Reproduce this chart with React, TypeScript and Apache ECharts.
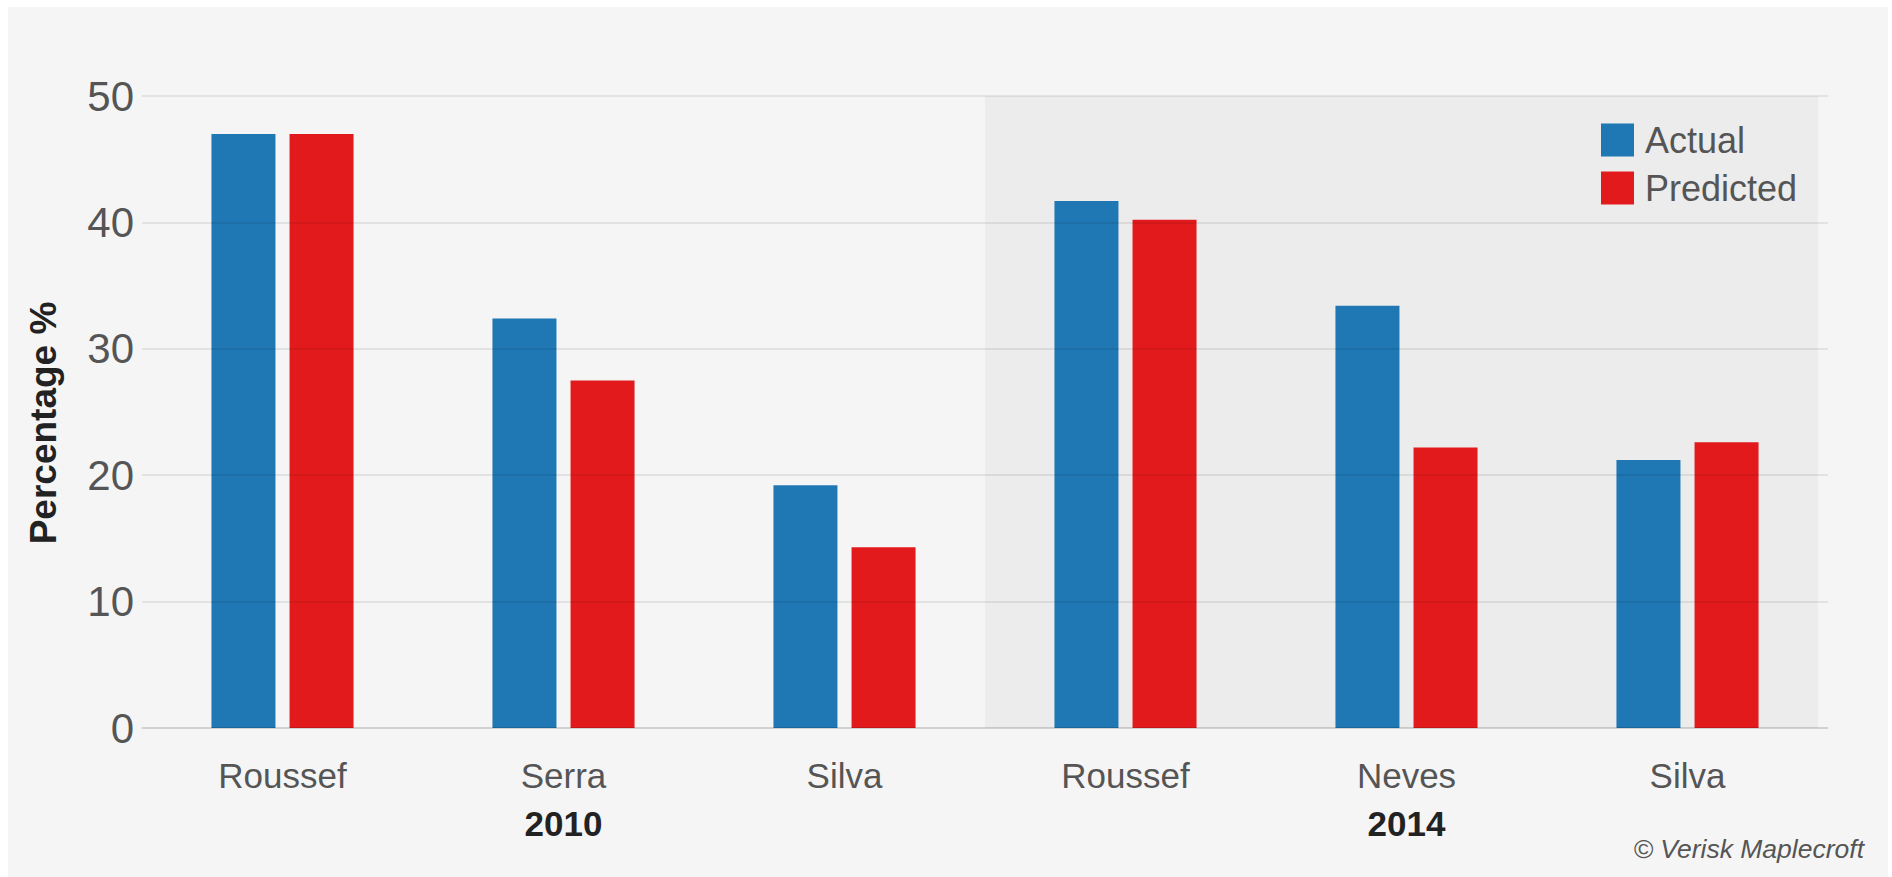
import React, { useEffect, useRef } from "react";
import * as echarts from "echarts";

const categories = ["Roussef", "Serra", "Silva", "Roussef", "Neves", "Silva"];
const years = ["", "2010", "", "", "2014", ""];
const actual = [47.0, 32.4, 19.2, 41.7, 33.4, 21.2];
const predicted = [47.0, 27.5, 14.3, 40.2, 22.2, 22.6];
const seriesNames = ["Actual", "Predicted"];
const shadedStart = 3; // first category of the 2014 group
const yMin = 0;
const yMax = 50;
const yStep = 10;
const yName = "Percentage %";
const credit = "© Verisk Maplecroft";

const SANS = "'Liberation Sans', Arial, sans-serif";

export default function App() {
  const ref = useRef<HTMLDivElement>(null);
  useEffect(() => {
    if (!ref.current) return;
    const chart = echarts.init(ref.current, null, { renderer: "svg" });
    chart.setOption({
      animation: false,
      backgroundColor: "#f5f5f5",
      grid: { left: 134, right: 60, top: 89, bottom: 149, containLabel: false },
      legend: {
        orient: "vertical",
        left: 1593,
        top: 115,
        padding: 0,
        itemWidth: 33,
        itemHeight: 33,
        itemGap: 12,
        icon: "rect",
        textStyle: { fontSize: 36, color: "#555", fontFamily: SANS, padding: [0, 0, 0, 6] },
        data: seriesNames,
      },
      xAxis: {
        type: "category",
        data: categories,
        axisTick: { show: false },
        axisLine: { show: true, lineStyle: { color: "rgba(0,0,0,0.1)", width: 1.5 } },
        axisLabel: {
          margin: 23,
          interval: 0,
          formatter: (v: string, i: number) =>
            years[i] ? `{n|${v}}\n{y|${years[i]}}` : `{n|${v}}`,
          rich: {
            n: { fontSize: 35, color: "#555", fontFamily: SANS, lineHeight: 48 },
            y: { fontSize: 35, color: "#222", fontFamily: SANS, fontWeight: "bold", lineHeight: 48 },
          },
        },
        z: 5,
      },
      yAxis: {
        type: "value",
        min: yMin,
        max: yMax,
        interval: yStep,
        name: yName,
        nameLocation: "middle",
        nameGap: 80,
        nameTextStyle: { fontSize: 37, fontWeight: "bold", color: "#222", fontFamily: SANS, padding: [0, 22, 0, 0] },
        axisLine: { show: false },
        axisTick: { show: false },
        axisLabel: { fontSize: 42, color: "#555", fontFamily: SANS, margin: 8 },
        splitLine: { lineStyle: { color: "rgba(0,0,0,0.1)", width: 1.5 } },
        z: 5,
      },
      series: [
        {
          name: seriesNames[0],
          type: "bar",
          data: actual,
          barWidth: 64,
          barGap: "22%",
          itemStyle: { color: "#1f77b4" },
        },
        {
          name: seriesNames[1],
          type: "bar",
          data: predicted,
          barWidth: 64,
          barGap: "22%",
          itemStyle: { color: "#e31a1c" },
        },
      ],
      graphic: [
        {
          id: "credit",
          type: "text",
          right: 24,
          top: 828,
          style: { text: credit, fontSize: 26.5, fontStyle: "italic", fill: "#555", fontFamily: SANS },
        },
      ],
    });
    const c0 = chart.convertToPixel({ xAxisIndex: 0 }, shadedStart) as number;
    const c1 = chart.convertToPixel({ xAxisIndex: 0 }, shadedStart + 1) as number;
    const band = c1 - c0;
    const x0 = c0 - band / 2;
    const x1 = (chart.convertToPixel({ xAxisIndex: 0 }, categories.length - 1) as number) + band / 2;
    const yTop = chart.convertToPixel({ yAxisIndex: 0 }, yMax) as number;
    const yBot = chart.convertToPixel({ yAxisIndex: 0 }, yMin) as number;
    chart.setOption({
      graphic: [
        {
          id: "shade",
          type: "rect",
          z: -10,
          shape: { x: x0, y: yTop, width: x1 - x0 - 10, height: yBot - yTop },
          style: { fill: "#ececec" },
          silent: true,
        },
      ],
    });
    return () => chart.dispose();
  }, []);
  return (
    <div
      ref={ref}
      style={{ position: "fixed", left: 8, top: 7, width: 1880, height: 870, background: "#f5f5f5" }}
    />
  );
}
